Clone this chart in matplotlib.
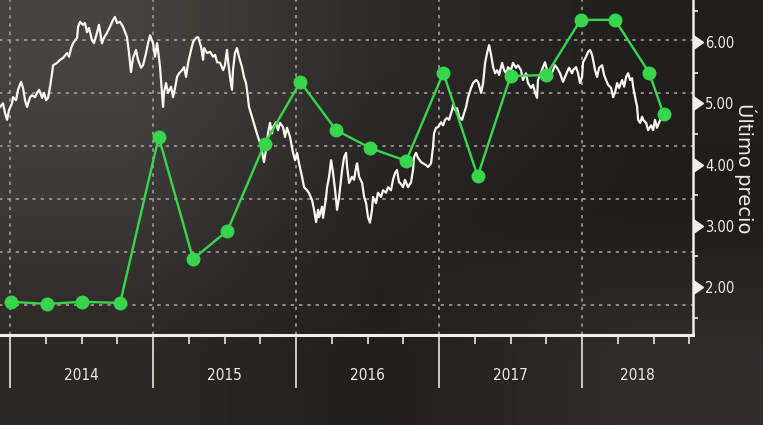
import matplotlib
matplotlib.use('Agg')
import matplotlib.pyplot as plt
import matplotlib.transforms as mtransforms
from matplotlib.colors import to_rgb
import numpy as np

# Ultimo precio (white line), dates as decimal years
price_dates = [
    2013.930, 2013.951, 2013.965, 2013.979, 2013.993, 2014.014, 2014.021, 2014.042, 2014.056, 2014.077,
    2014.091, 2014.105, 2014.119, 2014.140, 2014.154, 2014.175, 2014.189, 2014.203, 2014.224, 2014.238,
    2014.252, 2014.266, 2014.280, 2014.294, 2014.301, 2014.329, 2014.350, 2014.371, 2014.399, 2014.413,
    2014.427, 2014.441, 2014.469, 2014.476, 2014.490, 2014.510, 2014.524, 2014.538, 2014.552, 2014.573,
    2014.587, 2014.608, 2014.622, 2014.643, 2014.657, 2014.678, 2014.699, 2014.720, 2014.734, 2014.748,
    2014.769, 2014.790, 2014.818, 2014.832, 2014.846, 2014.860, 2014.881, 2014.895, 2014.916, 2014.930,
    2014.951, 2014.965, 2014.979,
    2015.000, 2015.014, 2015.028, 2015.035, 2015.049, 2015.063, 2015.070, 2015.077, 2015.091, 2015.105,
    2015.126, 2015.140, 2015.154, 2015.168, 2015.182, 2015.203, 2015.217, 2015.231, 2015.245, 2015.266,
    2015.280, 2015.301, 2015.315, 2015.336, 2015.350, 2015.357, 2015.378, 2015.399, 2015.420, 2015.434,
    2015.448, 2015.469, 2015.490, 2015.503, 2015.517, 2015.524, 2015.538, 2015.552, 2015.559, 2015.573,
    2015.587, 2015.601, 2015.622, 2015.636, 2015.650, 2015.657, 2015.671, 2015.692, 2015.713, 2015.734,
    2015.755, 2015.769, 2015.776, 2015.790, 2015.804, 2015.818, 2015.832, 2015.839, 2015.860, 2015.874,
    2015.888, 2015.909, 2015.923, 2015.937, 2015.958, 2015.979, 2015.993,
    2016.007, 2016.021, 2016.042, 2016.056, 2016.077, 2016.091, 2016.112, 2016.126, 2016.140, 2016.154,
    2016.161, 2016.182, 2016.189, 2016.210, 2016.217, 2016.231, 2016.245, 2016.259, 2016.273, 2016.287,
    2016.301, 2016.322, 2016.336, 2016.350, 2016.357, 2016.371, 2016.392, 2016.406, 2016.420, 2016.427,
    2016.441, 2016.462, 2016.476, 2016.490, 2016.503, 2016.517, 2016.531, 2016.538, 2016.559, 2016.573,
    2016.594, 2016.608, 2016.629, 2016.643, 2016.664, 2016.678, 2016.692, 2016.706, 2016.720, 2016.727,
    2016.748, 2016.762, 2016.783, 2016.804, 2016.818, 2016.825, 2016.839, 2016.853, 2016.874, 2016.888,
    2016.909, 2016.923, 2016.944, 2016.958, 2016.965, 2016.979, 2016.993,
    2017.014, 2017.028, 2017.042, 2017.056, 2017.070, 2017.091, 2017.098, 2017.112, 2017.126, 2017.140,
    2017.161, 2017.175, 2017.189, 2017.203, 2017.224, 2017.238, 2017.259, 2017.273, 2017.294, 2017.308,
    2017.322, 2017.336, 2017.350, 2017.364, 2017.378, 2017.392, 2017.406, 2017.420, 2017.441, 2017.455,
    2017.469, 2017.483, 2017.503, 2017.517, 2017.538, 2017.552, 2017.573, 2017.587, 2017.608, 2017.622,
    2017.643, 2017.657, 2017.671, 2017.685, 2017.692, 2017.706, 2017.727, 2017.741, 2017.755, 2017.776,
    2017.797, 2017.811, 2017.825, 2017.846, 2017.867, 2017.881, 2017.895, 2017.909, 2017.930, 2017.937,
    2017.958, 2017.972, 2017.986,
    2018.000, 2018.007, 2018.028, 2018.042, 2018.056, 2018.070, 2018.077, 2018.091, 2018.105, 2018.119,
    2018.140, 2018.154, 2018.168, 2018.182, 2018.203, 2018.217, 2018.231, 2018.245, 2018.259, 2018.280,
    2018.294, 2018.308, 2018.322, 2018.336, 2018.350, 2018.357, 2018.371, 2018.385, 2018.392, 2018.406,
    2018.420, 2018.427, 2018.448, 2018.462, 2018.483, 2018.497, 2018.510, 2018.524, 2018.538, 2018.552,
]
price_values = [
    4.94, 5.00, 4.84, 4.73, 4.89, 5.00, 5.10, 5.05, 5.22, 5.35,
    5.25, 5.05, 4.94, 5.10, 5.13, 5.10, 5.17, 5.22, 5.09, 5.17,
    5.05, 5.09, 5.27, 5.49, 5.62, 5.66, 5.71, 5.74, 5.82, 5.76,
    5.90, 5.98, 6.07, 6.25, 6.33, 6.28, 6.31, 6.16, 6.23, 6.03,
    5.98, 6.15, 6.28, 5.98, 6.07, 6.15, 6.25, 6.36, 6.41, 6.31,
    6.33, 6.25, 6.08, 5.82, 5.51, 5.74, 5.87, 5.71, 5.58, 5.62,
    5.82, 5.98, 6.11,
    5.98, 5.76, 5.98, 5.87, 5.59, 5.17, 4.94, 5.18, 5.33, 5.17,
    5.27, 5.10, 5.25, 5.43, 5.49, 5.54, 5.59, 5.43, 5.66, 5.87,
    6.00, 6.07, 6.08, 5.92, 5.71, 5.90, 5.82, 5.84, 5.76, 5.79,
    5.67, 5.66, 5.54, 5.62, 5.87, 5.71, 5.43, 5.22, 5.54, 5.82,
    5.90, 5.76, 5.59, 5.43, 5.33, 5.22, 4.94, 4.78, 4.61, 4.45,
    4.31, 4.12, 4.04, 4.24, 4.51, 4.68, 4.51, 4.61, 4.69, 4.56,
    4.68, 4.61, 4.45, 4.60, 4.45, 4.19, 4.07,
    4.19, 4.02, 3.80, 3.63, 3.58, 3.53, 3.42, 3.26, 3.06, 3.26,
    3.14, 3.31, 3.13, 3.47, 3.63, 3.80, 4.07, 3.86, 3.58, 3.26,
    3.47, 3.91, 4.12, 4.19, 3.96, 3.70, 3.80, 3.75, 3.96, 4.02,
    3.80, 3.70, 3.47, 3.37, 3.14, 3.05, 3.26, 3.47, 3.37, 3.54,
    3.47, 3.58, 3.54, 3.63, 3.58, 3.75, 3.86, 3.91, 3.71, 3.70,
    3.63, 3.75, 3.63, 3.71, 3.91, 4.12, 4.19, 4.11, 4.04, 4.02,
    3.99, 3.96, 4.02, 4.29, 4.51, 4.60, 4.61,
    4.69, 4.64, 4.73, 4.76, 4.73, 4.89, 4.97, 4.89, 4.92, 4.78,
    4.73, 4.84, 4.94, 5.10, 5.25, 5.33, 5.38, 5.35, 5.17, 5.33,
    5.66, 5.82, 5.95, 5.79, 5.59, 5.49, 5.54, 5.46, 5.66, 5.54,
    5.49, 5.59, 5.54, 5.66, 5.58, 5.62, 5.54, 5.38, 5.49, 5.33,
    5.25, 5.30, 5.18, 5.09, 5.38, 5.46, 5.59, 5.67, 5.54, 5.43,
    5.54, 5.62, 5.58, 5.49, 5.35, 5.43, 5.51, 5.58, 5.49, 5.54,
    5.59, 5.49, 5.33,
    5.43, 5.67, 5.76, 5.84, 5.87, 5.79, 5.71, 5.54, 5.43, 5.58,
    5.62, 5.46, 5.38, 5.30, 5.25, 5.10, 5.18, 5.33, 5.25, 5.38,
    5.27, 5.43, 5.49, 5.38, 5.41, 5.27, 5.10, 4.94, 4.73, 4.68,
    4.78, 4.73, 4.68, 4.56, 4.64, 4.56, 4.73, 4.60, 4.68, 4.76,
]

# green quarterly series (left scale, axis not visible in the picture)
green_dates = [2014.01, 2014.26, 2014.50, 2014.77, 2015.04, 2015.28, 2015.52, 2015.78, 2016.03, 2016.28,
               2016.52, 2016.77, 2017.03, 2017.27, 2017.50, 2017.75, 2017.99, 2018.23, 2018.47, 2018.57]
green_values = [1.06, 1.02, 1.06, 1.04, 4.17, 1.87, 2.40, 4.04, 5.21, 4.30,
                3.96, 3.72, 5.38, 3.43, 5.32, 5.34, 6.38, 6.38, 5.38, 4.60]

years = [2014, 2015, 2016, 2017, 2018]
price_ticks = [2, 3, 4, 5, 6]
green_grid = [1, 2, 3, 4, 5, 6]

# screen photo lighting: 3x3 background tones
bg_tones = [['#45443f', '#2c2b29', '#201f1d'],
            ['#3a3935', '#242321', '#1e1d1b'],
            ['#2c2825', '#221e1b', '#322d2a']]

BG = '#252422'
FG = '#f0eeea'
GREEN = '#38d64c'

fig = plt.figure(figsize=(7.63, 4.25), dpi=100, facecolor=BG)

bg_ax = fig.add_axes([0, 0, 1, 1], zorder=-1)
bg_ax.imshow(np.array([[to_rgb(c) for c in row] for row in bg_tones]),
             interpolation='bilinear', aspect='auto', extent=(0, 1, 0, 1))
bg_ax.set_axis_off()

# bottom layer: grid on the (hidden) left scale
ax = fig.add_axes([-0.0056, 0.2118, 0.9139, 0.7882])
ax.patch.set_visible(False)
xmin, xmax = 2013.9, 2018.776
ax.set_xlim(xmin, xmax)
ax.set_ylim(0.434, 6.755)
ax.set_yticks(green_grid)
ax.set_xticks(years)
ax.set_xticks(np.arange(2014, 2018.8, 0.25), minor=True)
ax.grid(True, which='major', color='#a09e98', linestyle=(0, (2, 3)), linewidth=1.2)
ax.tick_params(axis='y', left=False, labelleft=False)
ax.tick_params(axis='x', which='major', direction='out', length=38, width=1.3,
               color='#d8d6d2', labelbottom=False)
ax.tick_params(axis='x', which='minor', direction='out', length=6.5, width=1.3, color='#d8d6d2')
for s in ['top', 'left', 'right']:
    ax.spines[s].set_visible(False)
ax.spines['bottom'].set_color(FG)
ax.spines['bottom'].set_linewidth(2.2)

# year labels centred on the visible part of each year
for y in years:
    c = (max(y, xmin) + min(y + 1, xmax)) / 2
    ax.annotate(str(y), xy=(c, 0), xycoords=('data', 'axes fraction'), xytext=(0, -29.5),
                textcoords='offset points', ha='center', va='center', color=FG,
                fontsize=11, family='DejaVu Sans', fontstretch='condensed')

# middle layer: price on the right axis
ax2 = ax.twinx()
ax2.set_ylim(1.217, 6.686)
ax2.plot(price_dates, price_values, color='#faf7f2', linewidth=1.6)
ax2.set_yticks(price_ticks)
ax2.set_yticklabels(['%.2f' % v for v in price_ticks])
ax2.set_yticks(np.arange(1.5, 6.6, 1.0), minor=True)
ax2.tick_params(axis='y', which='major', length=0, pad=8.5, labelcolor=FG, labelsize=10.5)
ax2.tick_params(axis='y', which='minor', length=3.5, width=1.2, color=FG)
for lab in ax2.get_yticklabels():
    lab.set_fontstretch('condensed')
for s in ['top', 'left', 'bottom']:
    ax2.spines[s].set_visible(False)
ax2.spines['right'].set_color(FG)
ax2.spines['right'].set_linewidth(1.8)
trans = mtransforms.blended_transform_factory(ax2.transAxes, ax2.transData)
ax2.plot([1] * len(price_ticks), price_ticks, transform=trans, marker=9, markersize=10,
         color=FG, linestyle='none', clip_on=False)

# top layer: green series
ax3 = ax.twinx()
ax3.set_ylim(ax.get_ylim())
ax3.plot(green_dates, green_values, color=GREEN, linewidth=1.7, marker='o', markersize=9,
         markerfacecolor=GREEN, markeredgecolor=GREEN, clip_on=False)
ax3.set_yticks([])
for s in ax3.spines.values():
    s.set_visible(False)

fig.text(745 / 763, 1 - 168 / 425, 'Último precio', rotation=-90, ha='center', va='center',
         color=FG, fontsize=14)

plt.savefig('out.png', dpi=100, facecolor=BG)
